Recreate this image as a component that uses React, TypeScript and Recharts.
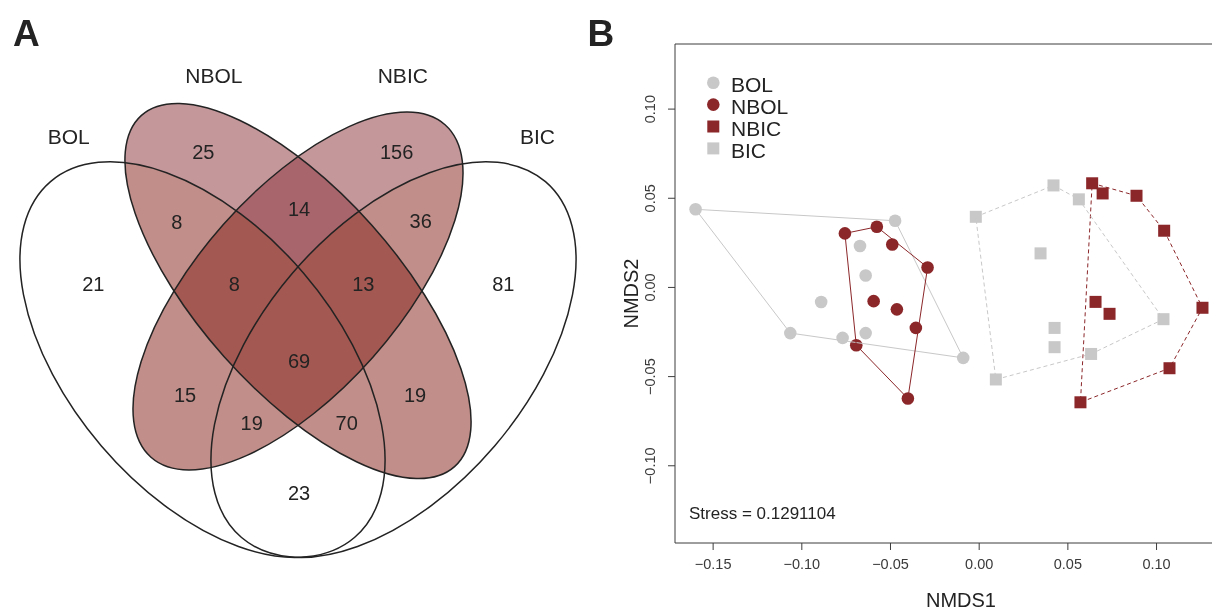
import React from "react";
import {
  ScatterChart,
  Scatter,
  XAxis,
  YAxis,
  ReferenceLine,
  ReferenceArea,
  Legend,
} from "recharts";

// ---------- Panel A: Venn diagram of shared OTUs ----------
const setNames = ["BOL", "NBOL", "NBIC", "BIC"];
const regionKeys = [
  "BOL", "NBOL", "NBIC", "BIC",
  "BOL&NBOL", "NBOL&NBIC", "NBIC&BIC",
  "BOL&NBOL&NBIC", "NBOL&NBIC&BIC",
  "BOL&NBIC", "NBOL&BIC",
  "BOL&NBIC&BIC", "BOL&NBOL&BIC",
  "BOL&BIC", "ALL",
];
const regionCounts = [21, 25, 156, 81, 8, 14, 36, 8, 13, 15, 19, 19, 70, 23, 69];

// ---------- Panel B: NMDS site scores ----------
const bolX = [-0.1599, -0.0474, -0.0672, -0.064, -0.0891, -0.1065, -0.077, -0.064, -0.009];
const bolY = [0.0438, 0.0374, 0.0232, 0.0067, -0.0082, -0.0256, -0.0283, -0.0256, -0.0395];
const nbolX = [-0.0757, -0.0577, -0.049, -0.0291, -0.0595, -0.0464, -0.0357, -0.0693, -0.0402];
const nbolY = [0.0303, 0.034, 0.0241, 0.0112, -0.0077, -0.0123, -0.0227, -0.0324, -0.0623];
const nbicX = [0.0637, 0.0696, 0.0887, 0.1043, 0.1259, 0.0656, 0.0735, 0.1073, 0.0571];
const nbicY = [0.0584, 0.0527, 0.0514, 0.0318, -0.0114, -0.0081, -0.0148, -0.0453, -0.0644];
const bicX = [-0.0019, 0.0419, 0.0562, 0.0346, 0.1039, 0.0425, 0.0425, 0.0631, 0.0094];
const bicY = [0.0396, 0.0572, 0.0494, 0.0191, -0.0178, -0.0227, -0.0335, -0.0373, -0.0516];

// convex hull vertices (indices into the score arrays, closed)
const bolHull = [0, 1, 8, 5, 0];
const nbolHull = [0, 1, 3, 8, 7, 0];
const nbicHull = [0, 2, 3, 4, 7, 8, 0];
const bicHull = [0, 1, 2, 4, 7, 8, 0];

const stress = "0.1291104";
const xTicks = [-0.15, -0.1, -0.05, 0, 0.05, 0.1];
const yTicks = [-0.1, -0.05, 0, 0.05, 0.1];

// ---------- layout / style ----------
const FONT = "'Liberation Sans', Arial, Helvetica, sans-serif";
const INK = "#232323";
const DARK_RED = "#8b2629";
const GREY = "#c8c8c8";

// Venn geometry, in the 600x613 panel units
const VENN = {
  ellipse: {
    x: [202.5, 298, 298, 393.5],
    y: [359.6, 291, 291, 359.6],
    rx: [234, 235.3, 221.9, 234],
    ry: [133, 98.9, 100, 133],
    rot: [49.5, 48.3, -48.5, -49.5],
  },
  setLabel: { x: [68.8, 213.9, 402.8, 537.4], y: [136.7, 75, 75, 136.7] },
  regionLabel: {
    x: [93.3, 203.3, 396.7, 503.3, 176.7, 299, 420.7, 234.3, 363.3, 185, 415, 251.7, 346.7, 299, 299],
    y: [283.3, 151.7, 151.7, 283.3, 221.7, 208.5, 221, 283.3, 283.3, 395, 395, 422.7, 422.7, 492.7, 360.7],
  },
};

const X_DOMAIN: [number, number] = [-0.1715, 0.151];
const Y_DOMAIN: [number, number] = [-0.1433, 0.1365];

const ellipseRows = setNames.map((name, i) => ({
  name,
  x: VENN.ellipse.x[i],
  y: VENN.ellipse.y[i],
  rx: VENN.ellipse.rx[i],
  ry: VENN.ellipse.ry[i],
  rot: VENN.ellipse.rot[i],
}));
const innerRows = ellipseRows.filter((r) => r.name.startsWith("N"));
const outerRows = ellipseRows.filter((r) => !r.name.startsWith("N"));
const regionRows = regionKeys.map((key, i) => ({
  key,
  count: regionCounts[i],
  x: VENN.regionLabel.x[i],
  y: VENN.regionLabel.y[i],
}));
const setLabelRows = setNames.map((name, i) => ({
  name,
  x: VENN.setLabel.x[i],
  y: VENN.setLabel.y[i],
}));

const ellipseAttrs = (p: any) => ({
  cx: p.cx,
  cy: p.cy,
  rx: p.payload.rx,
  ry: p.payload.ry,
  transform: `rotate(${p.payload.rot} ${p.cx} ${p.cy})`,
});

const innerFill = (p: any) => (
  <ellipse {...ellipseAttrs(p)} fill="rgb(143,57,65)" fillOpacity={0.525} />
);
// outer sets only tint where they overlap the inner ones (blended once, as a union)
const outerTint = (p: any) => <ellipse {...ellipseAttrs(p)} fill="rgb(242,235,217)" />;
const outline = (p: any) => (
  <ellipse {...ellipseAttrs(p)} fill="none" stroke={INK} strokeWidth={1.5} />
);
const regionText = (p: any) => (
  <text x={p.cx} y={p.cy} dy="0.36em" textAnchor="middle" fontSize={20} fill={INK}>
    {p.payload.count}
  </text>
);
const setText = (p: any) => (
  <text x={p.cx} y={p.cy} dy="0.36em" textAnchor="middle" fontSize={21} fill={INK}>
    {p.payload.name}
  </text>
);

// NMDS groups
const groups = [
  { name: "BOL", xs: bolX, ys: bolY, hull: bolHull, color: GREY, square: false, dash: undefined },
  { name: "NBOL", xs: nbolX, ys: nbolY, hull: nbolHull, color: DARK_RED, square: false, dash: undefined },
  { name: "NBIC", xs: nbicX, ys: nbicY, hull: nbicHull, color: DARK_RED, square: true, dash: "4 3" },
  { name: "BIC", xs: bicX, ys: bicY, hull: bicHull, color: GREY, square: true, dash: "4 3" },
];

const marker = (color: string, square: boolean) => (p: any) =>
  square ? (
    <rect x={p.cx - 6} y={p.cy - 6} width={12} height={12} fill={color} />
  ) : (
    <circle cx={p.cx} cy={p.cy} r={6.3} fill={color} />
  );

const fmt = (v: number) => (v < 0 ? "\u2212" : "") + Math.abs(v).toFixed(2);

const XTick = (p: any) => (
  <text x={p.x} y={p.y} textAnchor="middle" fontSize={14.5} fill="#3a3a3a">
    {fmt(p.payload.value)}
  </text>
);
const YTick = (p: any) => (
  <text
    x={p.x}
    y={p.y}
    transform={`rotate(-90 ${p.x} ${p.y})`}
    textAnchor="middle"
    fontSize={14.5}
    fill="#3a3a3a"
  >
    {fmt(p.payload.value)}
  </text>
);

const xTitle = (p: any) => {
  const vb = p.viewBox;
  return (
    <text x={vb.x + vb.width / 2} y={vb.y + 64} textAnchor="middle" fontSize={20} fill={INK}>
      NMDS1
    </text>
  );
};
const yTitle = (p: any) => {
  const vb = p.viewBox;
  const x = vb.x + 17.5;
  const y = vb.y + vb.height / 2;
  return (
    <text x={x} y={y} transform={`rotate(-90 ${x} ${y})`} textAnchor="middle" fontSize={20} fill={INK}>
      NMDS2
    </text>
  );
};

const renderLegend = () => (
  <svg width={140} height={100} style={{ overflow: "visible" }}>
    {groups.map((g, i) => {
      const cy = 12.7 + i * 21.9;
      return (
        <g key={g.name}>
          {g.square ? (
            <rect x={12.3} y={cy - 6} width={12} height={12} fill={g.color} />
          ) : (
            <circle cx={18.3} cy={cy} r={6.3} fill={g.color} />
          )}
          <text x={36} y={cy + 9.5} fontSize={21} fill={INK}>
            {g.name}
          </text>
        </g>
      );
    })}
  </svg>
);

export default function App() {
  return (
    <div
      style={{
        position: "absolute",
        left: 0,
        top: 0,
        width: 1212,
        height: 613,
        overflow: "hidden",
        background: "#fff",
        fontFamily: FONT,
      }}
    >
      <style>{`.venn-tint { mix-blend-mode: color-burn; }`}</style>
      <div style={{ position: "absolute", left: 0, top: 0 }}>
        <ScatterChart width={600} height={613} margin={{ top: 0, right: 0, bottom: 0, left: 0 }}>
          <XAxis type="number" dataKey="x" domain={[0, 600]} hide />
          <YAxis type="number" dataKey="y" domain={[0, 613]} reversed hide />
          <ReferenceArea x1={0} x2={600} y1={0} y2={613} fill="#fff" fillOpacity={1} stroke="none" />
          <Scatter data={innerRows} shape={innerFill} isAnimationActive={false} />
          <Scatter className="venn-tint" data={outerRows} shape={outerTint} isAnimationActive={false} />
          <Scatter data={ellipseRows} shape={outline} isAnimationActive={false} />
          <Scatter data={regionRows} shape={regionText} isAnimationActive={false} />
          <Scatter data={setLabelRows} shape={setText} isAnimationActive={false} />
        </ScatterChart>
      </div>

      <div style={{ position: "absolute", left: 600, top: 0 }}>
        <ScatterChart width={657} height={613} margin={{ top: 44, right: 10, bottom: 4, left: 20 }}>
          <XAxis
            type="number"
            dataKey="x"
            domain={X_DOMAIN}
            ticks={xTicks}
            tick={XTick}
            tickSize={7}
            tickMargin={18.5}
            height={66}
            stroke="#3d3d3d"
            label={{ content: xTitle }}
          />
          <YAxis
            type="number"
            dataKey="y"
            domain={Y_DOMAIN}
            ticks={yTicks}
            tick={YTick}
            tickSize={7}
            tickMargin={12.5}
            width={55}
            stroke="#3d3d3d"
            label={{ content: yTitle }}
          />
          <ReferenceLine y={Y_DOMAIN[1]} stroke="#3d3d3d" />
          {groups.map((g) => (
            <Scatter
              key={`pts-${g.name}`}
              name={g.name}
              data={g.xs.map((x, i) => ({ x, y: g.ys[i] }))}
              shape={marker(g.color, g.square)}
              isAnimationActive={false}
            />
          ))}
          {groups.map((g) => (
            <Scatter
              key={`hull-${g.name}`}
              data={g.hull.map((i) => ({ x: g.xs[i], y: g.ys[i] }))}
              line={{ stroke: g.color, strokeWidth: 1, strokeDasharray: g.dash }}
              shape={() => <g />}
              legendType="none"
              isAnimationActive={false}
            />
          ))}
          <Legend
            layout="horizontal"
            verticalAlign="middle"
            align="center"
            content={renderLegend}
            wrapperStyle={{ left: 95, top: 70, width: 140, height: 100 }}
          />
        </ScatterChart>
      </div>

      <svg
        width={1212}
        height={613}
        style={{ position: "absolute", left: 0, top: 0, pointerEvents: "none" }}
      >
        <text x={13} y={46} fontSize={37} fontWeight="bold" fill={INK}>
          A
        </text>
        <text x={587.5} y={46} fontSize={37} fontWeight="bold" fill={INK}>
          B
        </text>
        <text x={689} y={519} fontSize={17} fill={INK}>
          {`Stress = ${stress}`}
        </text>
      </svg>
    </div>
  );
}
